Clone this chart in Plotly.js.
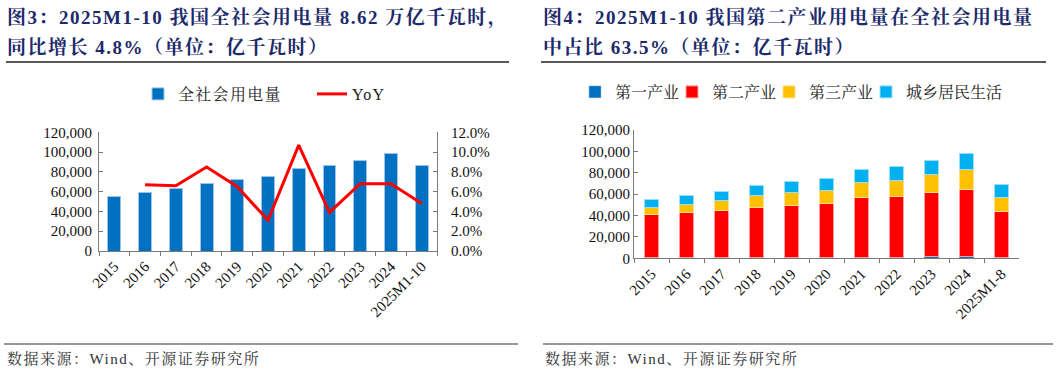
<!DOCTYPE html>
<html><head><meta charset="utf-8">
<script src="https://cdn.plot.ly/plotly-3.0.1.min.js"></script>
<style>
html,body{margin:0;padding:0;background:#fff;}
#chart{width:1057px;height:374px;}
.annotation-text{letter-spacing:1.5px;}
.legendtext{letter-spacing:1.3px;}
</style>
</head><body><div id="chart"></div>
<script>
// ---- data ----
const yearsL = ['2015','2016','2017','2018','2019','2020','2021','2022','2023','2024','2025M1-10'];
const totalPower = [55500, 59100, 63000, 68400, 72600, 75100, 83000, 86600, 92000, 98500, 86200];
const yoyPct = [null, 6.7, 6.6, 8.5, 6.5, 3.1, 10.7, 3.9, 6.8, 6.8, 4.8];

const yearsR = ['2015','2016','2017','2018','2019','2020','2021','2022','2023','2024','2025M1-8'];
const primary = [1020, 1075, 1155, 728, 780, 859, 1023, 1146, 1278, 1357, 976];
const secondary = [39500, 41600, 43700, 46700, 48800, 50500, 55700, 56600, 60100, 63100, 42600];
const tertiary = [7200, 8100, 9300, 10900, 12100, 12200, 14400, 14600, 16800, 18400, 13100];
const residential = [7500, 7800, 8400, 9300, 10000, 10900, 11500, 13700, 13400, 15000, 11900];

const leftTitle = ['图3：2025M1-10 我国全社会用电量 8.62 万亿千瓦时，', '同比增长 4.8%（单位：亿千瓦时）'];
const rightTitle = ['图4：2025M1-10 我国第二产业用电量在全社会用电量', '中占比 63.5%（单位：亿千瓦时）'];
const sourceText = '数据来源：Wind、开源证券研究所';

// ---- layout helpers ----
const W = 1057, H = 374;
const px = x => x / W, py = y => 1 - y / H;
const SERIF = '"Liberation Serif", "Times New Roman", "Noto Serif CJK SC", "Noto Sans CJK SC", serif';
const TITLE_FONT = {family: SERIF, size: 19, color: '#1c2a6b'};
const AX = '#7a7a7a';

const traces = [
  {type: 'bar', x: yearsL, y: totalPower, name: '全社会用电量', xaxis: 'x', yaxis: 'y',
   marker: {color: '#0070C0', line: {color: '#9dc3e6', width: 1}}, legend: 'legend'},
  {type: 'scatter', mode: 'lines', x: yearsL, y: yoyPct, name: 'YoY', xaxis: 'x', yaxis: 'y2',
   line: {color: '#FF0000', width: 3}, legend: 'legend'},
  {type: 'bar', x: yearsR, y: primary, name: '第一产业', xaxis: 'x2', yaxis: 'y3',
   marker: {color: '#0070C0', line: {color: '#9dc3e6', width: 0.5}}, legend: 'legend2'},
  {type: 'bar', x: yearsR, y: secondary, name: '第二产业', xaxis: 'x2', yaxis: 'y3',
   marker: {color: '#FF0000', line: {color: '#ff9f9f', width: 1}}, legend: 'legend2'},
  {type: 'bar', x: yearsR, y: tertiary, name: '第三产业', xaxis: 'x2', yaxis: 'y3',
   marker: {color: '#FFC000', line: {color: '#ffe08a', width: 1}}, legend: 'legend2'},
  {type: 'bar', x: yearsR, y: residential, name: '城乡居民生活', xaxis: 'x2', yaxis: 'y3',
   marker: {color: '#00B0F0', line: {color: '#99dff8', width: 1}}, legend: 'legend2', legendwidth: 130}
];

const tickFont = {family: SERIF, size: 15, color: '#111'};
const xBase = {type: 'category', tickson: 'boundaries', ticks: 'outside', ticklen: 4, tickcolor: AX,
  showline: true, linecolor: AX, linewidth: 1, tickangle: -45, tickfont: tickFont, showgrid: false,
  fixedrange: true};
const yBase = {showline: true, linecolor: AX, linewidth: 1, ticks: 'inside', ticklen: 4, tickcolor: AX,
  tickfont: tickFont, showgrid: false, zeroline: false, fixedrange: true};

const shapes = [
  {type: 'line', xref: 'paper', yref: 'paper', x0: px(6), x1: px(509), y0: py(62), y1: py(62), line: {color: '#222', width: 1.5}},
  {type: 'line', xref: 'paper', yref: 'paper', x0: px(541), x1: px(1046), y0: py(62), y1: py(62), line: {color: '#222', width: 1.5}},
  {type: 'line', xref: 'paper', yref: 'paper', x0: px(4), x1: px(518), y0: py(344), y1: py(344), line: {color: '#333', width: 1.2}},
  {type: 'line', xref: 'paper', yref: 'paper', x0: px(543), x1: px(1053), y0: py(344), y1: py(344), line: {color: '#333', width: 1.2}}
];

function ann(text, x, y, font) {
  return {text: text, xref: 'paper', yref: 'paper', x: px(x), y: py(y), xanchor: 'left', yanchor: 'middle',
          showarrow: false, font: font, align: 'left'};
}
const srcFont = {family: SERIF, size: 15, color: '#333'};
const annotations = [
  ann('<b>' + leftTitle[0] + '</b>', 5, 18, TITLE_FONT),
  ann('<b>' + leftTitle[1] + '</b>', 5, 47, TITLE_FONT),
  ann('<b>' + rightTitle[0] + '</b>', 541, 18, TITLE_FONT),
  ann('<b>' + rightTitle[1] + '</b>', 541, 47, TITLE_FONT),
  ann(sourceText, 5, 358, srcFont),
  ann(sourceText, 543, 358, srcFont)
];

const legendFont = {family: SERIF, size: 16, color: '#222'};
const layout = {
  width: W, height: H, margin: {l: 0, r: 0, t: 0, b: 0}, paper_bgcolor: '#fff', plot_bgcolor: '#fff',
  barmode: 'stack', bargap: 0.58, showlegend: true,
  xaxis: Object.assign({}, xBase, {domain: [px(99), px(437)], anchor: 'y'}),
  yaxis: Object.assign({}, yBase, {domain: [py(251), py(132.3)], range: [0, 120000], dtick: 20000, tickformat: ',d', anchor: 'x', ticklabelstandoff: 3}),
  yaxis2: Object.assign({}, yBase, {overlaying: 'y', side: 'right', anchor: 'x', range: [0, 12], dtick: 2, tickformat: '.1f', ticksuffix: '%', ticklabelstandoff: 10}),
  xaxis2: Object.assign({}, xBase, {domain: [px(634), px(1019)], anchor: 'y3'}),
  yaxis3: Object.assign({}, yBase, {domain: [py(258.3), py(130)], range: [0, 120000], dtick: 20000, tickformat: ',d', anchor: 'x2'}),
  legend: {orientation: 'h', x: px(138), y: py(94), xanchor: 'left', yanchor: 'middle', font: legendFont,
           bgcolor: 'rgba(0,0,0,0)', traceorder: 'normal', entrywidth: 129, entrywidthmode: 'pixels'},
  legend2: {orientation: 'h', x: px(575), y: py(92), xanchor: 'left', yanchor: 'middle', font: legendFont,
            bgcolor: 'rgba(0,0,0,0)', traceorder: 'normal', itemwidth: 30, entrywidth: 52, entrywidthmode: 'pixels'},
  shapes: shapes, annotations: annotations
};
Plotly.newPlot('chart', traces, layout, {staticPlot: true, displayModeBar: false});
</script></body></html>
